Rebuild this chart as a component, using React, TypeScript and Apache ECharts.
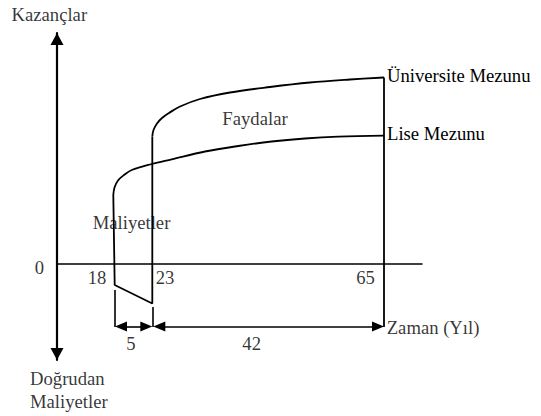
import React, { useEffect, useRef } from "react";
import * as echarts from "echarts";

// Schematic units: x = distance from the earnings axis, y = earnings (+) / direct costs (-)
const ageLabels = ["18", "23", "65"];
const ageX = [58, 95.3, 327];

// Lise Mezunu (high-school graduate) earnings profile
const liseCurve: [number, number][] = [
  [56.3, 69], [57.5, 76.5], [61, 83.5], [67, 89], [74.7, 94], [94.7, 100], [114.7, 104.7],
  [148, 112.5], [181.3, 118], [214.7, 122.5], [248, 125.5], [281.3, 127.3], [327, 128.3],
];

// Üniversite Mezunu (university graduate) earnings profile
const uniCurve: [number, number][] = [
  [95.3, 127.3], [96.5, 134], [100, 140.5], [105, 146], [112, 151], [123, 157.5], [143, 165],
  [173, 171.5], [213, 177], [253, 181.5], [293, 184.5], [327, 186.5],
];

// Direct costs during study (18 -> 23)
const costPath: [number, number][] = [
  [56.3, 69], [57.7, -21], [95.3, -39.5], [95.3, 127.3],
];

// Retirement line at 65
const retireLine: [number, number][] = [[327, 186.5], [327, -63]];

const studyYears = "5";
const workYears = "42";

const FONT = "Liberation Serif";
const FS = 18.67;

export default function App() {
  const ref = useRef<HTMLDivElement>(null);

  useEffect(() => {
    document.body.style.margin = "0";
    if (!ref.current) return;
    const chart = echarts.init(ref.current, undefined, { renderer: "svg" });

    const dimY = -62.5;
    const ah = 12; // arrow head length
    const textStyle = { color: "#000", fontFamily: FONT, fontSize: FS };

    const lbl = (name: string, x: number, y: number, align: string = "center") => ({
      name,
      value: [x, y],
      label: { align },
    });

    const annotations = [
      lbl("Kazançlar", -45.5, 249.5, "left"),
      lbl("Faydalar", 198, 146),
      lbl("Maliyetler", 74.5, 42),
      lbl("0", -17.5, -3.5),
      lbl(ageLabels[0], ageX[0] - 18, -13),
      lbl(ageLabels[1], ageX[1] + 12.7, -13),
      lbl(ageLabels[2], ageX[2] - 18.5, -13.5),
      lbl(studyYears, 74, -79.5),
      lbl(workYears, 194.7, -79.5),
      lbl("Zaman (Yıl)", 329.7, -63, "left"),
      lbl("Doğrudan", -27, -114.7, "left"),
      lbl("Maliyetler", -27, -137, "left"),
    ];

    const lineBase = {
      type: "line" as const,
      symbol: "none",
      silent: true,
      lineStyle: { color: "#000", width: 1.8 },
    };

    chart.setOption({
      animation: false,
      backgroundColor: "#fff",
      textStyle: { fontFamily: FONT },
      grid: { left: 57, top: 33, width: 365, height: 327 },
      xAxis: {
        type: "value",
        min: 0,
        max: 365,
        axisLine: { onZero: true, lineStyle: { color: "#000", width: 1.6 } },
        axisTick: { show: false },
        axisLabel: { show: false },
        splitLine: { show: false },
      },
      yAxis: {
        type: "value",
        min: -96,
        max: 231,
        axisLine: {
          show: true,
          onZero: true,
          symbol: ["triangle", "triangle"],
          symbolSize: [13, 12],
          symbolOffset: [6, -6],
          lineStyle: { color: "#000", width: 2.2 },
        },
        axisTick: { show: false },
        axisLabel: { show: false },
        splitLine: { show: false },
      },
      series: [
        {
          ...lineBase,
          name: "Lise Mezunu",
          data: liseCurve,
          smooth: 0.35,
          endLabel: {
            show: true,
            formatter: "Lise Mezunu",
            distance: 3,
            offset: [0, -2.7],
            ...textStyle,
          },
        },
        {
          ...lineBase,
          name: "Üniversite Mezunu",
          data: uniCurve,
          smooth: 0.35,
          endLabel: {
            show: true,
            formatter: "Üniversite Mezunu",
            distance: 3,
            offset: [0, -2.5],
            ...textStyle,
          },
        },
        { ...lineBase, name: "Maliyetler", data: costPath },
        {
          ...lineBase,
          name: "65",
          data: retireLine,
          markLine: {
            silent: true,
            animation: false,
            label: { show: false },
            lineStyle: { type: "solid", color: "#000", width: 1.6 },
            data: [
              [
                { coord: [ageX[0], -26], symbol: "none" },
                { coord: [ageX[0], -63], symbol: "none" },
              ],
              [
                { coord: [ageX[1], -43], symbol: "none" },
                { coord: [ageX[1], -63], symbol: "none" },
              ],
              [
                { coord: [ageX[0] + ah / 2, dimY], symbol: "triangle", symbolSize: [10, ah] },
                { coord: [ageX[1] - ah / 2, dimY], symbol: "triangle", symbolSize: [10, ah] },
              ],
              [
                { coord: [ageX[1] + 1 + ah / 2, dimY], symbol: "triangle", symbolSize: [10, ah] },
                { coord: [ageX[2] - ah / 2, dimY], symbol: "triangle", symbolSize: [10, ah] },
              ],
            ],
          },
        },
        {
          type: "scatter",
          name: "labels",
          silent: true,
          clip: false,
          symbol: "circle",
          symbolSize: 1,
          itemStyle: { color: "transparent" },
          label: {
            show: true,
            position: "inside",
            formatter: "{b}",
            ...textStyle,
          },
          data: annotations,
        },
      ],
    });

    return () => chart.dispose();
  }, []);

  return (
    <div
      ref={ref}
      style={{ position: "absolute", left: 0, top: 0, width: 541, height: 416, background: "#fff" }}
    />
  );
}
